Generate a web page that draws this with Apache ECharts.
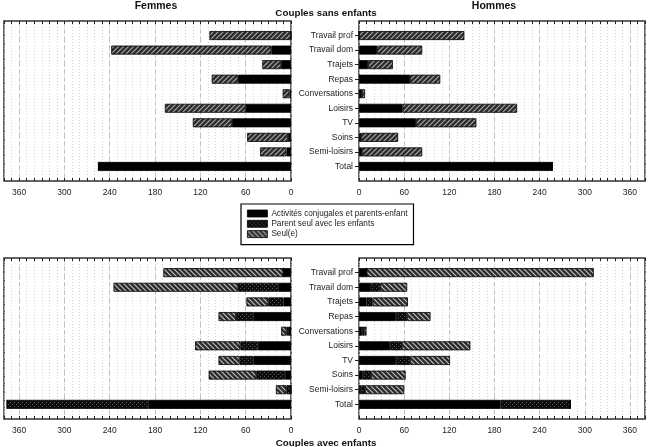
<!DOCTYPE html>
<html>
<head>
<meta charset="utf-8">
<script src="https://cdn.jsdelivr.net/npm/echarts@6/dist/echarts.min.js"></script>
<style>
html,body{margin:0;padding:0;background:#fff;}
#chart{width:654px;height:447px;}
</style>
</head>
<body>
<div id="chart"></div>
<script>
// ---- data (minutes per day) ----
const categories = ['Travail prof','Travail dom','Trajets','Repas','Conversations','Loisirs','TV','Soins','Semi-loisirs','Total'];
const tickLabels = [0, 60, 120, 180, 240, 300, 360];
const seriesNames = ['Activités conjugales et parents-enfant','Parent seul avec les enfants','Seul(e)'];

// Couples sans enfants
const femmesSansConj = [0, 26, 13, 70, 2, 60, 78, 4, 6, 255];
const femmesSansSeul = [108, 212, 25, 35, 9, 107, 52, 54, 35, 0];
const hommesSansConj = [0, 24, 12, 68, 4, 58, 76, 3, 4, 257];
const hommesSansSeul = [140, 60, 33, 40, 4, 152, 80, 49, 80, 0];

// Couples avec enfants
const femmesAvecConj   = [10, 17, 10, 50, 4, 44, 50, 8, 0, 189];
const femmesAvecParent = [0, 53, 20, 23, 2, 23, 18, 38, 6, 187];
const femmesAvecSeul   = [159, 165, 29, 23, 7, 60, 28, 63, 14, 0];
const hommesAvecConj   = [10, 16, 10, 49, 4, 41, 49, 5, 3, 188];
const hommesAvecParent = [0, 12, 8, 15, 3, 16, 19, 11, 5, 93];
const hommesAvecSeul   = [302, 36, 47, 31, 3, 91, 53, 46, 52, 0];

// ---- patterns ----
function hatch(dir, bg, fg, size, lw) {
  const c = document.createElement('canvas');
  c.width = size; c.height = size;
  const x = c.getContext('2d');
  x.fillStyle = bg; x.fillRect(0, 0, size, size);
  x.strokeStyle = fg; x.lineWidth = lw;
  x.beginPath();
  for (let k = -1; k <= 1; k++) {
    if (dir === '/') { x.moveTo(k*size - 1, size + 1); x.lineTo(k*size + size + 1, -1); }
    else { x.moveTo(k*size - 1, -1); x.lineTo(k*size + size + 1, size + 1); }
  }
  x.stroke();
  return {image: c, repeat: 'repeat'};
}
function dots() {
  const c = document.createElement('canvas');
  c.width = 4; c.height = 4;
  const x = c.getContext('2d');
  x.fillStyle = '#0c0c0c'; x.fillRect(0, 0, 4, 4);
  x.fillStyle = '#5a5a5a'; x.fillRect(0, 0, 1, 1); x.fillRect(2, 2, 1, 1);
  return {image: c, repeat: 'repeat'};
}
const patSlash = hatch('/', '#2b2b2b', '#a8a8a8', 5, 1.2);
const patBack = hatch('\\', '#2b2b2b', '#c0c0c0', 5, 1.2);
const patDots = dots();

const pad = a => [null, ...a, null];
const yCats = [' ', ...categories, '  '];

const grids = [
  {left: 4, top: 21, width: 287, height: 160},
  {left: 359, top: 21, width: 286, height: 160},
  {left: 4, top: 258, width: 287, height: 161},
  {left: 359, top: 258, width: 286, height: 161}
];
const FONT = 'Liberation Sans, Arial, sans-serif';

const xAxes = [], yAxes = [];
grids.forEach((g, i) => {
  const inv = (i % 2 === 0);
  xAxes.push({
    gridIndex: i, type: 'value', min: 0, max: 380, interval: 60, inverse: inv, position: 'bottom',
    axisLine: {show: false}, axisTick: {show: false},
    axisLabel: {showMaxLabel: false, fontSize: 8.5, color: '#222', margin: 7, fontFamily: FONT,
      formatter: v => tickLabels.includes(v) ? String(v) : ''},
    splitLine: {show: true, lineStyle: {color: '#b0b0b0', width: 0.8, type: [5, 3]}}
  });
  xAxes.push({
    gridIndex: i, type: 'value', min: 0, max: 380, interval: 10, inverse: inv, position: 'bottom',
    axisLine: {show: false}, axisLabel: {show: false},
    axisTick: {show: true, inside: true, length: 3, lineStyle: {color: '#222', width: 1}},
    splitLine: {show: true, lineStyle: {color: '#c8c8c8', width: 0.8, type: [1, 2]}}
  });
  xAxes.push({
    gridIndex: i, type: 'value', min: 0, max: 380, interval: 10, inverse: inv, position: 'top',
    axisLine: {show: false}, axisLabel: {show: false},
    axisTick: {show: true, inside: true, length: 3, lineStyle: {color: '#222', width: 1}},
    splitLine: {show: false}
  });
  yAxes.push({
    gridIndex: i, type: 'category', data: yCats, inverse: true, boundaryGap: false,
    axisLine: {show: false},
    axisTick: inv ? {show: false} : {show: true, length: 4, interval: (idx) => idx > 0 && idx < yCats.length - 1, lineStyle: {color: '#222'}},
    axisLabel: inv ? {show: false} : {show: true, fontSize: 8.5, color: '#222', margin: 6, fontFamily: FONT, interval: 0},
    splitLine: {show: false}
  });
});

function bar(name, grid, stack, data, color) {
  return {
    type: 'bar', barWidth: 9, animation: false,
    name, xAxisIndex: grid * 3, yAxisIndex: grid, stack, data: pad(data),
    itemStyle: {color, borderColor: '#000', borderWidth: 0.8}
  };
}

const series = [
  bar(seriesNames[0], 2, 'fa', femmesAvecConj, '#000'),
  bar(seriesNames[1], 2, 'fa', femmesAvecParent, patDots),
  bar(seriesNames[2], 2, 'fa', femmesAvecSeul, patBack),
  bar(seriesNames[0], 3, 'ha', hommesAvecConj, '#000'),
  bar(seriesNames[1], 3, 'ha', hommesAvecParent, patDots),
  bar(seriesNames[2], 3, 'ha', hommesAvecSeul, patBack),
  bar(seriesNames[0], 0, 'fs', femmesSansConj, '#000'),
  bar(seriesNames[2], 0, 'fs', femmesSansSeul, patSlash),
  bar(seriesNames[0], 1, 'hs', hommesSansConj, '#000'),
  bar(seriesNames[2], 1, 'hs', hommesSansSeul, patSlash)
];

const titleStyle = {fontSize: 10.5, fontWeight: 'bold', color: '#111', fontFamily: FONT};
const subStyle = {fontSize: 9.8, fontWeight: 'bold', color: '#111', fontFamily: FONT};
const option = {
  backgroundColor: '#fff',
  animation: false,
  grid: grids.map(g => Object.assign({show: true, borderColor: '#333', borderWidth: 1.5, backgroundColor: 'transparent'}, g)),
  xAxis: xAxes,
  yAxis: yAxes,
  title: [
    {text: 'Femmes', left: 156, top: 1, padding: 0, textAlign: 'center', textStyle: titleStyle},
    {text: 'Hommes', left: 494, top: 1, padding: 0, textAlign: 'center', textStyle: titleStyle},
    {text: 'Couples sans enfants', left: 326, top: 8, padding: 0, textAlign: 'center', textStyle: subStyle},
    {text: 'Couples avec enfants', left: 326, top: 438, padding: 0, textAlign: 'center', textStyle: subStyle}
  ],
  legend: {
    orient: 'vertical', left: 241, top: 204,
    borderColor: '#000', borderWidth: 1.2, padding: [5, 6, 6, 6],
    itemWidth: 20, itemHeight: 7, itemGap: 1.3, icon: 'rect',
    textStyle: {fontSize: 8.2, lineHeight: 9, color: '#222', fontFamily: FONT, padding: [0, 0, 0, -1]},
    data: [
      {name: seriesNames[0], itemStyle: {color: '#000', borderColor: '#000', borderWidth: 0.8}},
      {name: seriesNames[1], itemStyle: {color: patDots, borderColor: '#000', borderWidth: 0.8}},
      {name: seriesNames[2], itemStyle: {color: patBack, borderColor: '#000', borderWidth: 0.8}}
    ]
  },
  series
};
const chart = echarts.init(document.getElementById('chart'), null, {renderer: 'canvas'});
chart.setOption(option);
</script>
</body>
</html>
